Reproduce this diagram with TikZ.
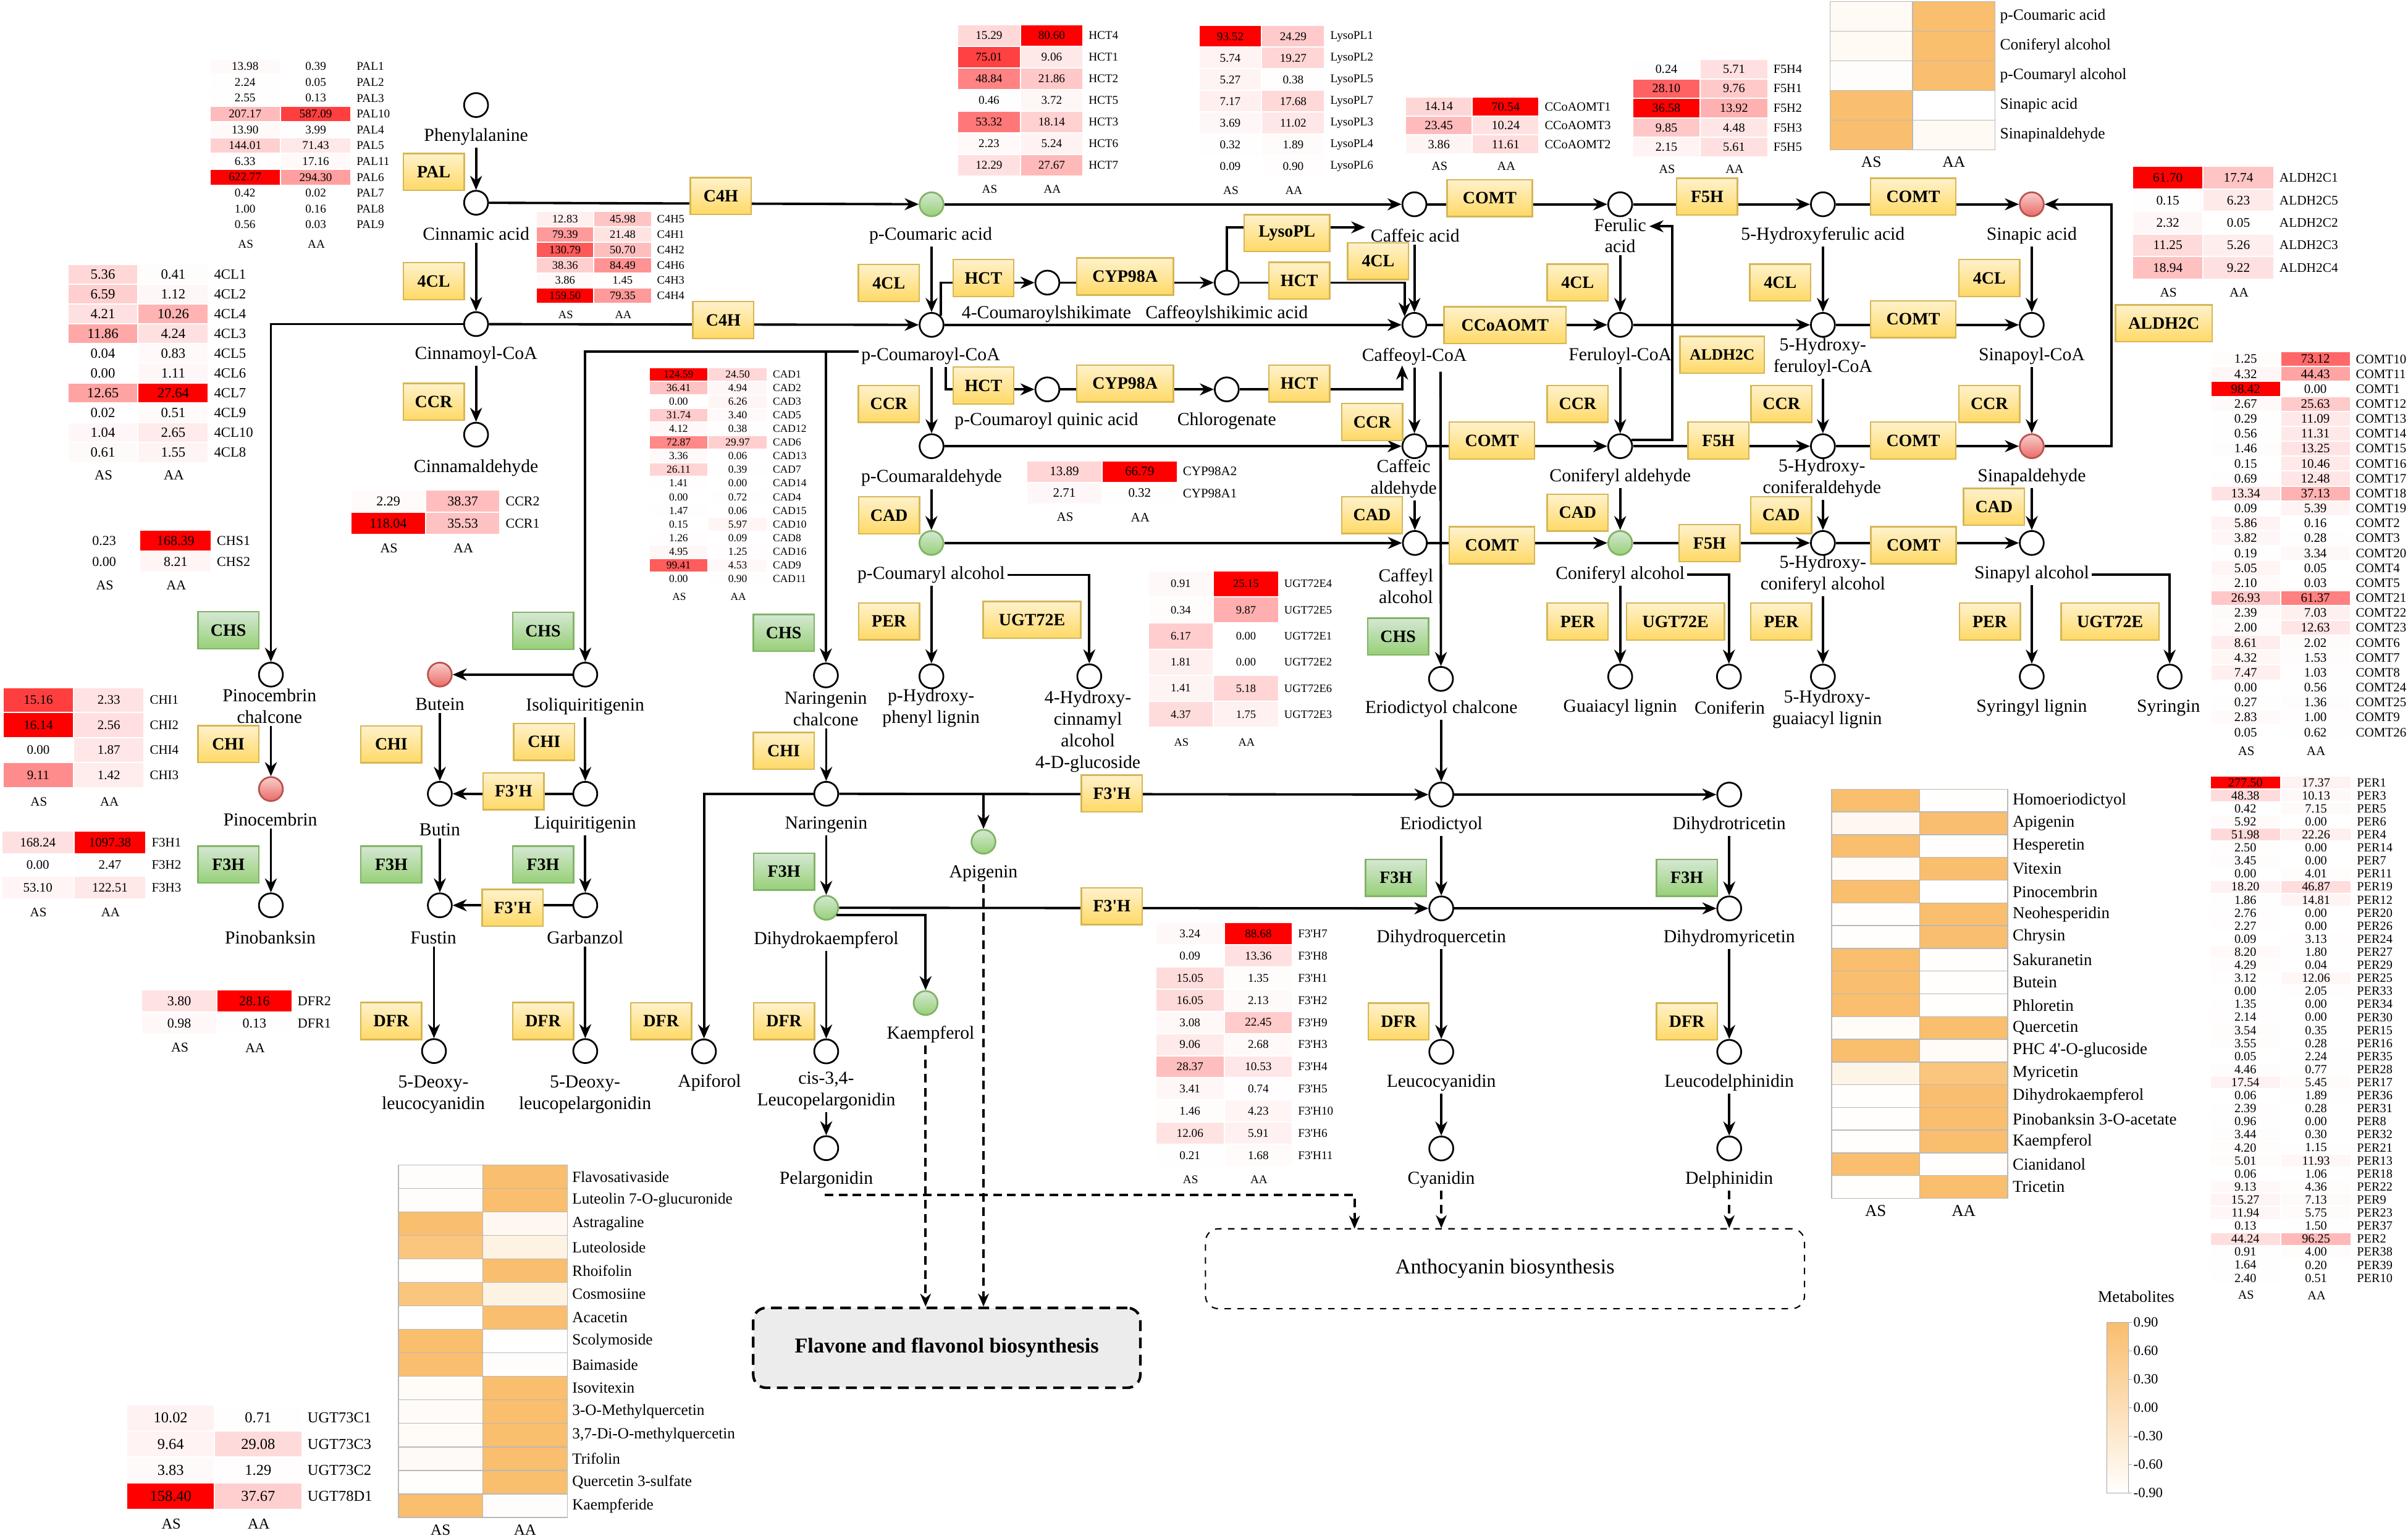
\documentclass[tikz,border=0pt]{standalone}
\usepackage{fontspec}
\setmainfont{Liberation Serif}[Ligatures=TeXOff]
\usetikzlibrary{arrows.meta}
\definecolor{enzt}{HTML}{FFF2CC}
\definecolor{enzd}{HTML}{FFD966}
\definecolor{enzb}{HTML}{D6B656}
\definecolor{grnt}{HTML}{D5E8D4}
\definecolor{grnd}{HTML}{97D077}
\definecolor{grnb}{HTML}{82B366}
\definecolor{redt}{HTML}{F8CECC}
\definecolor{redd}{HTML}{EA6B66}
\definecolor{redb}{HTML}{B85450}
\definecolor{metor}{RGB}{249,190,110}

\newcommand\heattab[8][5.5]{%
  \foreach \va/\vb/\gn [count=\i] in {#8}{%
    \pgfmathsetmacro\ra{\va/#7}%
    \pgfmathsetmacro\rb{\vb/#7}%
    \pgfmathsetmacro\ia{ifthenelse(\ra>0.95,100,80*\ra)}%
    \pgfmathsetmacro\ib{ifthenelse(\rb>0.95,100,80*\rb)}%
    \fill[red!\ia!white] (#3,{#4+(\i-1)*#6}) rectangle ++({#5-0.8},{#6-0.8});
    \fill[red!\ib!white] ({#3+#5},{#4+(\i-1)*#6}) rectangle ++({#5-0.8},{#6-0.8});
    \node[tab,font=\fontsize{#1}{#1}\selectfont] (#2a\i) at ({#3+(#5-0.8)/2},{#4+(\i-0.5)*#6-0.4}) {\va};
    \node[tab,font=\fontsize{#1}{#1}\selectfont] (#2b\i) at ({#3+#5+(#5-0.8)/2},{#4+(\i-0.5)*#6-0.4}) {\vb};
    \node[tab,anchor=west,font=\fontsize{#1}{#1}\selectfont] (#2g\i) at ({#3+2*#5+3},{#4+(\i-0.5)*#6-0.4}) {\gn};
    \xdef\tabn{\i}%
  }%
  \node[tab,font=\fontsize{#1}{#1}\selectfont] (#2as) at ({#3+#5/2},{#4+\tabn*#6+0.3*#6+4}) {AS};
  \node[tab,font=\fontsize{#1}{#1}\selectfont] (#2aa) at ({#3+1.5*#5},{#4+\tabn*#6+0.3*#6+4}) {AA};
}

\newcommand\mettab[7][7]{%
  \foreach \ca/\cb/\mn [count=\i] in {#7}{%
    \draw[gray!55,fill=metor!\ca!white] (#3,{#4+(\i-1)*#6}) rectangle ++(#5,#6);
    \draw[gray!55,fill=metor!\cb!white] ({#3+#5},{#4+(\i-1)*#6}) rectangle ++(#5,#6);
    \node[tab,anchor=west,font=\fontsize{#1}{#1}\selectfont] (#2n\i) at ({#3+2*#5+3},{#4+(\i-0.5)*#6}) {\mn};
    \xdef\tabn{\i}%
  }%
  \node[tab,font=\fontsize{#1}{#1}\selectfont] (#2as) at ({#3+#5/2},{#4+\tabn*#6+8}) {AS};
  \node[tab,font=\fontsize{#1}{#1}\selectfont] (#2aa) at ({#3+1.5*#5},{#4+\tabn*#6+8}) {AA};
}

\begin{document}
\begin{tikzpicture}[x=0.025cm,y=-0.025cm,
  met/.style={circle,draw,line width=0.8pt,fill=white,minimum size=3.9mm,inner sep=0pt},
  metg/.style={met,draw=grnb,top color=grnt,bottom color=grnd},
  metr/.style={met,draw=redb,top color=redt,bottom color=redd},
  enz/.style={draw=enzb,line width=0.7pt,top color=enzt,bottom color=enzd,font=\bfseries\fontsize{8}{9}\selectfont,minimum width=9.9mm,minimum height=6mm,inner sep=1pt},
  enzg/.style={enz,draw=grnb,top color=grnt,bottom color=grnd},
  lbl/.style={font=\fontsize{8.5}{10}\selectfont,align=center,inner sep=1pt},
  tab/.style={inner sep=0pt},
  arr/.style={line width=1.1pt,-{Stealth[length=6.5pt,width=5.5pt]}},
  darr/.style={line width=1.1pt,dash pattern=on 4pt off 2.5pt,-{Stealth[length=6pt,width=5pt]}}]
\useasboundingbox (0,0) rectangle (1568,1000);

\heattab[5.5]{pal}{137}{38.5}{46}{10.3}{622.77}{13.98/0.39/PAL1, 2.24/0.05/PAL2, 2.55/0.13/PAL3, 207.17/587.09/PAL10, 13.90/3.99/PAL4, 144.01/71.43/PAL5, 6.33/17.16/PAL11, 622.77/294.30/PAL6, 0.42/0.02/PAL7, 1.00/0.16/PAL8, 0.56/0.03/PAL9}
\heattab[6.5]{fcl}{44.5}{172.5}{45.8}{12.9}{27.64}{5.36/0.41/4CL1, 6.59/1.12/4CL2, 4.21/10.26/4CL4, 11.86/4.24/4CL3, 0.04/0.83/4CL5, 0.00/1.11/4CL6, 12.65/27.64/4CL7, 0.02/0.51/4CL9, 1.04/2.65/4CL10, 0.61/1.55/4CL8}
\heattab[5.3]{cfh}{349.6}{138}{37.5}{10}{159.50}{12.83/45.98/C4H5, 79.39/21.48/C4H1, 130.79/50.70/C4H2, 38.36/84.49/C4H6, 3.86/1.45/C4H3, 159.50/79.35/C4H4}
\heattab[5]{cad}{423}{239.6}{38.5}{8.88}{124.59}{124.59/24.50/CAD1, 36.41/4.94/CAD2, 0.00/6.26/CAD3, 31.74/3.40/CAD5, 4.12/0.38/CAD12, 72.87/29.97/CAD6, 3.36/0.06/CAD13, 26.11/0.39/CAD7, 1.41/0.00/CAD14, 0.00/0.72/CAD4, 1.47/0.06/CAD15, 0.15/5.97/CAD10, 1.26/0.09/CAD8, 4.95/1.25/CAD16, 99.41/4.53/CAD9, 0.00/0.90/CAD11}
\heattab[6.3]{ccr}{229}{319.5}{48.5}{14.5}{118.04}{2.29/38.37/CCR2, 118.04/35.53/CCR1}
\heattab[6.3]{chs}{45}{345.6}{46.5}{13.7}{168.39}{0.23/168.39/CHS1, 0.00/8.21/CHS2}
\heattab[6]{chi}{2.3}{448}{46}{16.3}{16.14}{15.16/2.33/CHI1, 16.14/2.56/CHI2, 0.00/1.87/CHI4, 9.11/1.42/CHI3}
\heattab[6]{fth}{1.5}{541.5}{47}{14.7}{1097.38}{168.24/1097.38/F3H1, 0.00/2.47/F3H2, 53.10/122.51/F3H3}
\heattab[6.3]{dfr}{92.6}{645}{49}{14.4}{28.16}{3.80/28.16/DFR2, 0.98/0.13/DFR1}
\heattab[5.5]{hct}{624}{16.4}{40.8}{14.1}{80.60}{15.29/80.60/HCT4, 75.01/9.06/HCT1, 48.84/21.86/HCT2, 0.46/3.72/HCT5, 53.32/18.14/HCT3, 2.23/5.24/HCT6, 12.29/27.67/HCT7}
\heattab[5.5]{lys}{781}{17}{41}{14.1}{93.52}{93.52/24.29/LysoPL1, 5.74/19.27/LysoPL2, 5.27/0.38/LysoPL5, 7.17/17.68/LysoPL7, 3.69/11.02/LysoPL3, 0.32/1.89/LysoPL4, 0.09/0.90/LysoPL6}
\heattab[5.8]{cco}{915.6}{63.6}{43.5}{12.3}{70.54}{14.14/70.54/CCoAOMT1, 23.45/10.24/CCoAOMT3, 3.86/11.61/CCoAOMT2}
\heattab[5.8]{ffh}{1063.5}{39}{44}{12.7}{36.58}{0.24/5.71/F5H4, 28.10/9.76/F5H1, 36.58/13.92/F5H2, 9.85/4.48/F5H3, 2.15/5.61/F5H5}
\heattab[6.1]{ald}{1389}{108.8}{46}{14.65}{61.70}{61.70/17.74/ALDH2C1, 0.15/6.23/ALDH2C5, 2.32/0.05/ALDH2C2, 11.25/5.26/ALDH2C3, 18.94/9.22/ALDH2C4}
\heattab[6]{com}{1440}{229.3}{45.4}{9.72}{98.42}{1.25/73.12/COMT10, 4.32/44.43/COMT11, 98.42/0.00/COMT1, 2.67/25.63/COMT12, 0.29/11.09/COMT13, 0.56/11.31/COMT14, 1.46/13.25/COMT15, 0.15/10.46/COMT16, 0.69/12.48/COMT17, 13.34/37.13/COMT18, 0.09/5.39/COMT19, 5.86/0.16/COMT2, 3.82/0.28/COMT3, 0.19/3.34/COMT20, 5.05/0.05/COMT4, 2.10/0.03/COMT5, 26.93/61.37/COMT21, 2.39/7.03/COMT22, 2.00/12.63/COMT23, 8.61/2.02/COMT6, 4.32/1.53/COMT7, 7.47/1.03/COMT8, 0.00/0.56/COMT24, 0.27/1.36/COMT25, 2.83/1.00/COMT9, 0.05/0.62/COMT26}
\heattab[5.8]{per}{1439.5}{505.6}{46}{8.49}{277.50}{277.50/17.37/PER1, 48.38/10.13/PER3, 0.42/7.15/PER5, 5.92/0.00/PER6, 51.98/22.26/PER4, 2.50/0.00/PER14, 3.45/0.00/PER7, 0.00/4.01/PER11, 18.20/46.87/PER19, 1.86/14.81/PER12, 2.76/0.00/PER20, 2.27/0.00/PER26, 0.09/3.13/PER24, 8.20/1.80/PER27, 4.29/0.04/PER29, 3.12/12.06/PER25, 0.00/2.05/PER33, 1.35/0.00/PER34, 2.14/0.00/PER30, 3.54/0.35/PER15, 3.55/0.28/PER16, 0.05/2.24/PER35, 4.46/0.77/PER28, 17.54/5.45/PER17, 0.06/1.89/PER36, 2.39/0.28/PER31, 0.96/0.00/PER8, 3.44/0.30/PER32, 4.20/1.15/PER21, 5.01/11.93/PER13, 0.06/1.06/PER18, 9.13/4.36/PER22, 15.27/7.13/PER9, 11.94/5.75/PER23, 0.13/1.50/PER37, 44.24/96.25/PER2, 0.91/4.00/PER38, 1.64/0.20/PER39, 2.40/0.51/PER10}
\heattab[5.3]{ugt}{748}{372}{42.5}{17}{25.15}{0.91/25.15/UGT72E4, 0.34/9.87/UGT72E5, 6.17/0.00/UGT72E1, 1.81/0.00/UGT72E2, 1.41/5.18/UGT72E6, 4.37/1.75/UGT72E3}
\heattab[6]{cyp}{669}{300.3}{49}{14.1}{66.79}{13.89/66.79/CYP98A2, 2.71/0.32/CYP98A1}
\heattab[5.5]{fph}{753}{601.1}{44.5}{14.43}{88.68}{3.24/88.68/F3'H7, 0.09/13.36/F3'H8, 15.05/1.35/F3'H1, 16.05/2.13/F3'H2, 3.08/22.45/F3'H9, 9.06/2.68/F3'H3, 28.37/10.53/F3'H4, 3.41/0.74/F3'H5, 1.46/4.23/F3'H10, 12.06/5.91/F3'H6, 0.21/1.68/F3'H11}
\heattab[7]{ugs}{83}{915}{57}{17}{158.40}{10.02/0.71/UGT73C1, 9.64/29.08/UGT73C3, 3.83/1.29/UGT73C2, 158.40/37.67/UGT78D1}

\mettab[7.3]{mtt}{1191.7}{1}{53.7}{19.3}{8/100/p-Coumaric acid, 8/100/Coniferyl alcohol, 3/100/p-Coumaryl alcohol, 100/0/Sinapic acid, 100/8/Sinapinaldehyde}
\mettab[7.2]{mtl}{259.4}{758.4}{55}{15.3}{3/100/Flavosativaside, 3/100/Luteolin 7-O-glucuronide, 100/10/Astragaline, 90/20/Luteoloside, 2/100/Rhoifolin, 90/20/Cosmosiine, 0/100/Acacetin, 100/0/Scolymoside, 100/3/Baimaside, 5/100/Isovitexin, 5/100/3-O-Methylquercetin, 5/100/{3,7-Di-O-methylquercetin}, 7/100/Trifolin, 2/100/Quercetin 3-sulfate, 100/3/Kaempferide}
\mettab[7.7]{mtr}{1192.7}{513.8}{57.3}{14.8}{100/2/Homoeriodictyol, 10/100/Apigenin, 100/2/Hesperetin, 5/100/Vitexin, 100/0/Pinocembrin, 2/100/Neohesperidin, 2/100/Chrysin, 100/2/Sakuranetin, 100/2/Butein, 100/2/Phloretin, 5/100/Quercetin, 100/5/PHC 4'-O-glucoside, 15/90/Myricetin, 2/100/Dihydrokaempferol, 2/100/Pinobanksin 3-O-acetate, 2/100/Kaempferol, 100/2/Cianidanol, 2/100/Tricetin}

\shade[bottom color=white,top color=metor] (1372,861) rectangle (1386,972);
\draw[gray!70] (1372,861) rectangle (1386,972);
\foreach \v [count=\k from 0] in {0.90,0.60,0.30,0.00,-0.30,-0.60,-0.90}{
  \draw[gray!70] (1386,{861+\k*18.5}) -- ++(2,0);
  \node[tab,anchor=west,font=\fontsize{6.5}{7}\selectfont] (leg\k) at (1389,{861+\k*18.5}) {\v};
}
\node[tab,font=\fontsize{7.5}{9}\selectfont] (legt) at (1391,844) {Metabolites};

\node[met] (phe) at (310,68.4) {};
\node[met] (cin) at (310,132) {};
\node[met] (cinc) at (310,211) {};
\node[met] (cinald) at (310,283) {};
\node[metg] (pcou) at (606.6,133) {};
\node[met] (caf) at (921,133) {};
\node[met] (fer) at (1055,133) {};
\node[met] (hfer) at (1187,133) {};
\node[metr] (sin) at (1323,133) {};
\node[met] (pcoa) at (606.6,211.5) {};
\node[met] (csk) at (682,184) {};
\node[met] (cfsk) at (798.8,184) {};
\node[met] (cafcoa) at (921,211.5) {};
\node[met] (fercoa) at (1055,211.5) {};
\node[met] (hfercoa) at (1187,211.5) {};
\node[met] (sincoa) at (1323,211.5) {};
\node[met] (pcq) at (682,253.5) {};
\node[met] (chl) at (798.8,253.5) {};
\node[met] (pcald) at (606.6,290.5) {};
\node[met] (cafald) at (921,290.5) {};
\node[met] (conald) at (1055,290.5) {};
\node[met] (hconald) at (1187,290.5) {};
\node[metr] (sinald) at (1323,290.5) {};
\node[metg] (pcalc) at (606.5,353.5) {};
\node[met] (cafalc) at (921.3,353.5) {};
\node[metg] (conalc) at (1055,353.5) {};
\node[met] (hconalc) at (1187,353.5) {};
\node[met] (sinalc) at (1323,353.5) {};
\node[met] (hpl) at (606.5,440.3) {};
\node[met] (hcg) at (709.3,440.3) {};
\node[met] (gl) at (1055,440.5) {};
\node[met] (cfn) at (1125.8,440.5) {};
\node[met] (hgl) at (1187,440.5) {};
\node[met] (syl) at (1323,440.5) {};
\node[met] (syr) at (1412.8,440.5) {};
\node[met] (erc) at (938.3,442) {};
\node[met] (pcc) at (176.4,439.2) {};
\node[metr] (but) at (286.4,439.2) {};
\node[met] (iso) at (381.1,439.2) {};
\node[met] (nch) at (537.8,439.7) {};
\node[metr] (pin) at (176.4,513.7) {};
\node[met] (bti) at (286.4,516.8) {};
\node[met] (liq) at (381.1,516.8) {};
\node[met] (nar) at (538,516.8) {};
\node[met] (eri) at (938.5,517.3) {};
\node[met] (dht) at (1126,517.3) {};
\node[metg] (api) at (640.4,548) {};
\node[met] (pnb) at (176.4,589.4) {};
\node[met] (fus) at (286.4,589.4) {};
\node[met] (gar) at (381.1,589.4) {};
\node[metg] (dhk) at (538,591) {};
\node[met] (dhq) at (938.5,591.4) {};
\node[met] (dhm) at (1126,591.4) {};
\node[metg] (kae) at (602.7,653) {};
\node[met] (dlc) at (282.6,684.3) {};
\node[met] (dlp) at (381.1,684.3) {};
\node[met] (apf) at (458.4,684.5) {};
\node[met] (lpg) at (538,684.5) {};
\node[met] (lcy) at (938.5,684.8) {};
\node[met] (ldp) at (1126,684.8) {};
\node[met] (pel) at (538,747.5) {};
\node[met] (cya) at (938.5,747.7) {};
\node[met] (del) at (1126,747.7) {};

\node[lbl] (phe-l) at (310,89) {Phenylalanine};
\node[lbl] (cin-l) at (310,152) {Cinnamic acid};
\node[lbl] (cinc-l) at (310,231) {Cinnamoyl-CoA};
\node[lbl] (cinald-l) at (310,304.8) {Cinnamaldehyde};
\node[lbl] (pcou-l) at (606,153.5) {p-Coumaric acid};
\node[lbl] (csk-l) at (681.4,204.6) {4-Coumaroylshikimate};
\node[lbl] (cfsk-l) at (798.8,204.6) {Caffeoylshikimic acid};
\node[lbl] (caf-l) at (921.5,153.5) {Caffeic acid};
\node[lbl] (fer-l) at (1055,153.4) {Ferulic\\acid};
\node[lbl] (hfer-l) at (1187,153.5) {5-Hydroxyferulic acid};
\node[lbl] (sin-l) at (1323,153.5) {Sinapic acid};
\node[lbl] (pcoa-l) at (606,232) {p-Coumaroyl-CoA};
\node[lbl] (cafcoa-l) at (921,232) {Caffeoyl-CoA};
\node[lbl] (fercoa-l) at (1055,232) {Feruloyl-CoA};
\node[lbl] (hfercoa-l) at (1187,232.4) {5-Hydroxy-\\feruloyl-CoA};
\node[lbl] (sincoa-l) at (1323,232) {Sinapoyl-CoA};
\node[lbl] (pcq-l) at (681.4,274) {p-Coumaroyl quinic acid};
\node[lbl] (chl-l) at (798.8,274) {Chlorogenate};
\node[lbl] (pcald-l) at (606.6,311.3) {p-Coumaraldehyde};
\node[lbl] (cafald-l) at (914,311.6) {Caffeic\\aldehyde};
\node[lbl] (conald-l) at (1055,310.7) {Coniferyl aldehyde};
\node[lbl] (hconald-l) at (1186.4,311.2) {5-Hydroxy-\\coniferaldehyde};
\node[lbl] (sinald-l) at (1323,310.7) {Sinapaldehyde};
\node[lbl] (pcalc-l) at (606.3,374.3) {p-Coumaryl alcohol};
\node[lbl] (cafalc-l) at (915.5,381.7) {Caffeyl\\alcohol};
\node[lbl] (conalc-l) at (1055,374) {Coniferyl alcohol};
\node[lbl] (hconalc-l) at (1187,374) {5-Hydroxy-\\coniferyl alcohol};
\node[lbl] (sinalc-l) at (1323,374) {Sinapyl alcohol};
\node[lbl] (hpl-l) at (606.3,460.8) {p-Hydroxy-\\phenyl lignin};
\node[lbl] (hcg-l) at (708.4,476.3) {4-Hydroxy-\\cinnamyl\\alcohol\\4-D-glucoside};
\node[lbl] (gl-l) at (1055,460.8) {Guaiacyl lignin};
\node[lbl] (cfn-l) at (1126.3,460.8) {Coniferin};
\node[lbl] (hgl-l) at (1189.8,461.6) {5-Hydroxy-\\guaiacyl lignin};
\node[lbl] (syl-l) at (1323,460.8) {Syringyl lignin};
\node[lbl] (syr-l) at (1412,460.8) {Syringin};
\node[lbl] (erc-l) at (938.5,461.4) {Eriodictyol chalcone};
\node[lbl] (pcc-l) at (175.5,459.6) {Pinocembrin\\chalcone};
\node[lbl] (but-l) at (286.4,458.3) {Butein};
\node[lbl] (iso-l) at (381,459.8) {Isoliquiritigenin};
\node[lbl] (nch-l) at (537.7,461.5) {Naringenin\\chalcone};
\node[lbl] (pin-l) at (176,533.7) {Pinocembrin};
\node[lbl] (bti-l) at (286.4,540.1) {Butin};
\node[lbl] (liq-l) at (381,536.8) {Liquiritigenin};
\node[lbl] (nar-l) at (538,537) {Naringenin};
\node[lbl] (eri-l) at (938.5,537.2) {Eriodictyol};
\node[lbl] (dht-l) at (1126,537.2) {Dihydrotricetin};
\node[lbl] (api-l) at (640.4,568.8) {Apigenin};
\node[lbl] (pnb-l) at (176,610.4) {Pinobanksin};
\node[lbl] (fus-l) at (282.2,610.4) {Fustin};
\node[lbl] (gar-l) at (381,610.4) {Garbanzol};
\node[lbl] (dhk-l) at (538,612) {Dihydrokaempferol};
\node[lbl] (dhq-l) at (938.5,610.6) {Dihydroquercetin};
\node[lbl] (dhm-l) at (1126,610.6) {Dihydromyricetin};
\node[lbl] (kae-l) at (606,673.6) {Kaempferol};
\node[lbl] (dlc-l) at (282.2,712.6) {5-Deoxy-\\leucocyanidin};
\node[lbl] (dlp-l) at (381,712.6) {5-Deoxy-\\leucopelargonidin};
\node[lbl] (apf-l) at (462,705) {Apiforol};
\node[lbl] (lpg-l) at (538,710) {cis-3,4-\\Leucopelargonidin};
\node[lbl] (lcy-l) at (938.5,705) {Leucocyanidin};
\node[lbl] (ldp-l) at (1126,705) {Leucodelphinidin};
\node[lbl] (pel-l) at (538,768) {Pelargonidin};
\node[lbl] (cya-l) at (938.5,768) {Cyanidin};
\node[lbl] (del-l) at (1126,768) {Delphinidin};

\coordinate (lyso-e) at (889,148);
\coordinate (pcoa-s) at (615.7,239);
\coordinate (cafcoa-b) at (913,238);
\coordinate (fa-c) at (1089,147.3);
\coordinate (fa-e) at (1074,147.3);
\coordinate (aldh-c) at (1375,133);
\coordinate (erc-top) at (938,242);
\coordinate (pcoa-w) at (559,229);
\coordinate (pel-d) at (537,778);
\coordinate (antho-a) at (882,800);

\draw[arr] (cin |- phe-l.south) -- (cin);
\draw[arr] (cinc |- cin-l.south) -- (cinc);
\draw[arr] (cinald |- cinc-l.south) -- (cinald);
\draw[arr] (cin) -- (pcou);
\draw[arr] (cinc) -- (pcoa);
\draw[arr] (pcou) -- (caf);
\draw[arr] (caf) -- (fer);
\draw[arr] (fer) -- (hfer);
\draw[arr] (hfer) -- (sin);
\draw[arr] (pcoa |- pcou-l.south) -- (pcoa);
\draw[arr] (cafcoa |- caf-l.south) -- (cafcoa);
\draw[arr] (fercoa |- fer-l.south) -- (fercoa);
\draw[arr] (hfercoa |- hfer-l.south) -- (hfercoa);
\draw[arr] (sincoa |- sin-l.south) -- (sincoa);
\draw[arr] (pcoa) -- (cafcoa);
\draw[arr] (cafcoa) -- (fercoa);
\draw[arr] (fercoa) -- (hfercoa);
\draw[arr] (hfercoa) -- (sincoa);
\draw[arr] (pcoa.45) |- (csk);
\draw[arr] (csk) -- (cfsk);
\draw[arr] (cfsk) -| (cafcoa.140);
\draw[arr] (cfsk) |- (lyso-e);
\draw[arr] (pcoa-s) |- (pcq);
\draw[arr] (pcq) -- (chl);
\draw[arr] (chl) -| (cafcoa-b);
\draw[arr] (pcald |- pcoa-l.south) -- (pcald);
\draw[arr] (cafald |- cafcoa-l.south) -- (cafald);
\draw[arr] (conald |- fercoa-l.south) -- (conald);
\draw[arr] (hconald |- hfercoa-l.south) -- (hconald);
\draw[arr] (sinald |- sincoa-l.south) -- (sinald);
\draw[arr] (pcald) -- (cafald);
\draw[arr] (cafald) -- (conald);
\draw[arr] (conald) -- (hconald);
\draw[arr] (hconald) -- (sinald);
\draw[arr] (conald.30) -| (fa-c) -- (fa-e);
\draw[arr] (sinald) -| (aldh-c) -- (sin);
\draw[arr] (pcalc |- pcald-l.south) -- (pcalc);
\draw[arr] (cafalc |- cafald-l.south) -- (cafalc);
\draw[arr] (conalc |- conald-l.south) -- (conalc);
\draw[arr] (hconalc |- hconald-l.south) -- (hconalc);
\draw[arr] (sinalc |- sinald-l.south) -- (sinalc);
\draw[arr] (pcalc) -- (cafalc);
\draw[arr] (cafalc) -- (conalc);
\draw[arr] (conalc) -- (hconalc);
\draw[arr] (hconalc) -- (sinalc);
\draw[arr] (hpl |- pcalc-l.south) -- (hpl);
\draw[arr] (pcalc-l.east) -| (hcg);
\draw[arr] (gl |- conalc-l.south) -- (gl);
\draw[arr] (conalc-l.east) -| (cfn);
\draw[arr] (hgl |- hconalc-l.south) -- (hgl);
\draw[arr] (syl |- sinalc-l.south) -- (syl);
\draw[arr] (sinalc-l.east) -| (syr);
\draw[arr] (erc-top) -- (erc);

\draw[arr] (cinc) -| (pcc);
\draw[arr] (pin |- pcc-l.south) -- (pin);
\draw[arr] (pnb |- pin-l.south) -- (pnb);
\draw[arr] (pcoa-w) -| (iso);
\draw[arr] (nch |- pcoa-w) -- (nch);
\draw[arr] (iso) -- (but);
\draw[arr] (liq |- iso-l.south) -- (liq);
\draw[arr] (bti |- but-l.south) -- (bti);
\draw[arr] (liq) -- (bti);
\draw[arr] (fus |- bti-l.south) -- (fus);
\draw[arr] (gar |- liq-l.south) -- (gar);
\draw[arr] (gar) -- (fus);
\draw[arr] (dlc |- fus-l.south) -- (dlc);
\draw[arr] (dlp |- gar-l.south) -- (dlp);
\draw[arr] (nar |- nch-l.south) -- (nar);
\draw[arr] (nar) -| (apf);
\draw[arr] (nar) -- (eri);
\draw[arr] (api |- nar) -- (api);
\draw[arr] (eri |- erc-l.south) -- (eri);
\draw[arr] (eri) -- (dht);
\draw[arr] (dhk |- nar-l.south) -- (dhk);
\draw[arr] (dhk) -- (dhq);
\draw[arr] (dhq) -- (dhm);
\draw[arr] (dhq |- eri-l.south) -- (dhq);
\draw[arr] (dhm |- dht-l.south) -- (dhm);
\draw[arr] (dhk.-35) -| (kae);
\draw[arr] (lpg |- dhk-l.south) -- (lpg);
\draw[arr] (pel |- lpg-l.south) -- (pel);
\draw[arr] (lcy |- dhq-l.south) -- (lcy);
\draw[arr] (cya |- lcy-l.south) -- (cya);
\draw[arr] (ldp |- dhm-l.south) -- (ldp);
\draw[arr] (del |- ldp-l.south) -- (del);

\node[enz] (pal) at (282.4,112) {PAL};
\node[enz] (c4h1) at (469.4,127.6) {C4H};
\node[enz] (c4h2) at (471,208.4) {C4H};
\node[enz] (fcl1) at (282.4,183) {4CL};
\node[enz] (ccr1) at (282.4,261.6) {CCR};
\node[enz] (fcl2) at (578.8,184.2) {4CL};
\node[enz] (hct1) at (640.4,181) {HCT};
\node[enz,minimum width=15.75mm] (cyp1) at (732.6,180) {CYP98A};
\node[enz] (hct2) at (846,182.7) {HCT};
\node[enz,minimum width=13.9mm] (lyso) at (838,151.8) {LysoPL};
\node[enz] (fcl3) at (897.4,170) {4CL};
\node[enz,minimum width=13.9mm] (comt1) at (970,129) {COMT};
\node[enz,minimum width=19.9mm] (ccoa) at (980,211.7) {CCoAOMT};
\node[enz] (fcl4) at (1027.3,184) {4CL};
\node[enz] (f5h1) at (1111.6,128) {F5H};
\node[enz,minimum width=13.9mm] (comt2) at (1245.8,128) {COMT};
\node[enz] (fcl5) at (1159.2,184) {4CL};
\node[enz] (fcl6) at (1295.4,181) {4CL};
\node[enz,minimum width=13.9mm] (comt3) at (1245.8,207.8) {COMT};
\node[enz,minimum width=13.7mm,font=\bfseries\fontsize{7.3}{8}\selectfont] (aldh1) at (1121.4,231) {ALDH2C};
\node[enz,minimum width=15.75mm] (aldh2) at (1409,210.5) {ALDH2C};
\node[enz] (ccr2) at (578.8,263) {CCR};
\node[enz] (hct3) at (640.4,251) {HCT};
\node[enz,minimum width=15.75mm] (cyp2) at (732.6,249.7) {CYP98A};
\node[enz] (hct4) at (846,249.7) {HCT};
\node[enz] (ccr3) at (893.5,274.7) {CCR};
\node[enz,minimum width=13.9mm] (comt4) at (971.5,286.8) {COMT};
\node[enz] (ccr4) at (1027.3,263) {CCR};
\node[enz] (f5h2) at (1119,286.8) {F5H};
\node[enz] (ccr5) at (1160,263) {CCR};
\node[enz,minimum width=13.9mm] (comt5) at (1245.8,286.8) {COMT};
\node[enz] (ccr6) at (1295.4,263) {CCR};
\node[enz] (cad1) at (578.9,335.5) {CAD};
\node[enz] (cad2) at (893.4,335.4) {CAD};
\node[enz,minimum width=13.9mm] (comt6) at (971.5,355) {COMT};
\node[enz] (cad3) at (1027.3,333.8) {CAD};
\node[enz] (f5h3) at (1113.2,353.6) {F5H};
\node[enz] (cad4) at (1159.8,335.4) {CAD};
\node[enz,minimum width=13.9mm] (comt7) at (1246,355) {COMT};
\node[enz] (cad5) at (1298.4,329.9) {CAD};
\node[enz] (per1) at (578.9,404.6) {PER};
\node[enz,minimum width=15.9mm] (ugt1) at (672,403.6) {UGT72E};
\node[enz] (per2) at (1027.3,404.7) {PER};
\node[enz,minimum width=15.9mm] (ugt2) at (1091,404.7) {UGT72E};
\node[enz] (per3) at (1159.8,404.7) {PER};
\node[enz] (per4) at (1295.7,404.7) {PER};
\node[enz,minimum width=15.9mm] (ugt3) at (1374,404.7) {UGT72E};
\node[enzg] (chs1) at (148.7,410.3) {CHS};
\node[enzg] (chs2) at (353.6,410.7) {CHS};
\node[enzg] (chs3) at (510.3,412) {CHS};
\node[enzg] (chs4) at (910.4,414.4) {CHS};
\node[enz] (chi1) at (148.7,484.4) {CHI};
\node[enz] (chi2) at (254.8,484.6) {CHI};
\node[enz] (chi3) at (354.3,483) {CHI};
\node[enz] (chi4) at (510.3,488.9) {CHI};
\node[enz] (f3ph1) at (334.4,515.2) {F3'H};
\node[enz] (f3ph2) at (333.8,591) {F3'H};
\node[enz] (f3ph3) at (724,516.6) {F3'H};
\node[enz] (f3ph4) at (724,590) {F3'H};
\node[enzg] (f3h1) at (148.7,562.8) {F3H};
\node[enzg] (f3h2) at (254.8,562.8) {F3H};
\node[enzg] (f3h3) at (353.6,562.8) {F3H};
\node[enzg] (f3h4) at (510.5,567.5) {F3H};
\node[enzg] (f3h5) at (909,571.5) {F3H};
\node[enzg] (f3h6) at (1098.4,571.5) {F3H};
\node[enz] (dfr1) at (254.8,664.7) {DFR};
\node[enz] (dfr2) at (353.6,664.7) {DFR};
\node[enz] (dfr3) at (430.5,664.8) {DFR};
\node[enz] (dfr4) at (510.5,664.8) {DFR};
\node[enz] (dfr5) at (910.7,665) {DFR};
\node[enz] (dfr6) at (1098.4,665) {DFR};

\node[draw,dashed,rounded corners=6pt,line width=0.6pt,minimum width=9.75cm,minimum height=1.3cm,font=\fontsize{9.8}{11}\selectfont] (antho) at (980,826) {Anthocyanin biosynthesis};
\node[draw,rounded corners=6pt,line width=1.2pt,dash pattern=on 5pt off 3pt,fill=gray!15,minimum width=6.3cm,minimum height=1.3cm,font=\bfseries\fontsize{9.8}{11}\selectfont] (flav) at (616.5,877.5) {Flavone and flavonol biosynthesis};

\draw[darr] (pel-d) -| (antho-a);
\draw[darr] (cya-l.south) -- (cya-l.south |- antho.north);
\draw[darr] (del-l.south) -- (del-l.south |- antho.north);
\draw[darr] (kae |- kae-l.south) -- (kae |- flav.north);
\draw[darr] (api |- api-l.south) -- (api |- flav.north);
\end{tikzpicture}
\end{document}
